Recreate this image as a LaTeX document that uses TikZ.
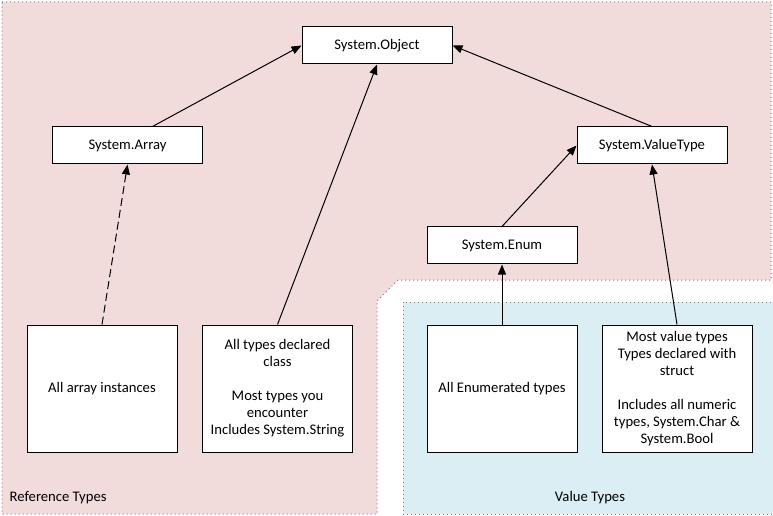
\documentclass[tikz,border=0pt]{standalone}
\usepackage{fontspec}
\setmainfont{Carlito}
\usepackage{xcolor}
\usetikzlibrary{arrows.meta,positioning}
\definecolor{refpink}{HTML}{F2DCDB}
\definecolor{valblue}{HTML}{DAEEF3}

\begin{document}
\begin{tikzpicture}[x=0.75pt,y=-0.75pt,
    font=\fontsize{11}{12.75}\selectfont,
    area/.style={draw=gray,line width=0.75pt,dash pattern=on 0.75pt off 2.25pt},
    typebox/.style={draw,fill=white,line width=0.75pt,minimum width=112.5pt,minimum height=27.75pt,inner sep=2pt},
    groupbox/.style={draw,fill=white,line width=0.75pt,minimum width=112.5pt,minimum height=95.25pt,align=center,inner sep=2pt},
    inherit/.style={line width=0.75pt,-{Triangle[length=7.5pt,width=6pt]}}]
    \useasboundingbox (0,0) rectangle (773,516);

    % Regions
    \fill[white] (0,0) rectangle (773,516);
    \draw[area,fill=refpink] (2,2) -- (771,2) -- (771,280) -- (398,280) -- (377,301) -- (377,514) -- (2,514) -- cycle;
    \fill[valblue] (403,302) rectangle (773,514);
    \draw[area] (772,514) -- (403,514) -- (403,302) -- (772,302);
    \node [right] at (5,498) {Reference Types};
    \node at (590,498) {Value Types};

    % Base types
    \foreach \name/\x/\y/\txt in {obj/377/45.5/System.Object, arr/127.5/145.5/System.Array,
        vtype/652/145.5/System.ValueType, enum/502/245.5/System.Enum}
        \node [typebox] (\name) at (\x,\y) {\txt};

    % Groups of types
    \node [groupbox] (arrinst) at (102,388.5) {All array instances};
    \node [groupbox] (cls) at (277.5,388.5) {All types declared\\class\\[12.75pt]Most types you\\encounter\\Includes System.String};
    \node [groupbox] (enumd) at (502,388.5) {All Enumerated types};
    \node [groupbox] (vals) at (677,388.5) {Most value types\\Types declared with\\struct\\[12.75pt]Includes all numeric\\types, System.Char \&\\System.Bool};

    % Inheritance
    \draw [inherit] ([xshift=18.75pt]arr.north) -- (obj.west);
    \draw [inherit] (cls.north) -- (obj.south);
    \draw [inherit] (vtype.north) -- (obj.east);
    \draw [inherit] (enum.north) -- (vtype.west);
    \draw [inherit,dash pattern=on 6pt off 3pt] (arrinst.north) -- (arr.south);
    \draw [inherit] (enumd.north) -- (enum.south);
    \draw [inherit] (vals.north) -- (vtype.south);
\end{tikzpicture}
\end{document}
